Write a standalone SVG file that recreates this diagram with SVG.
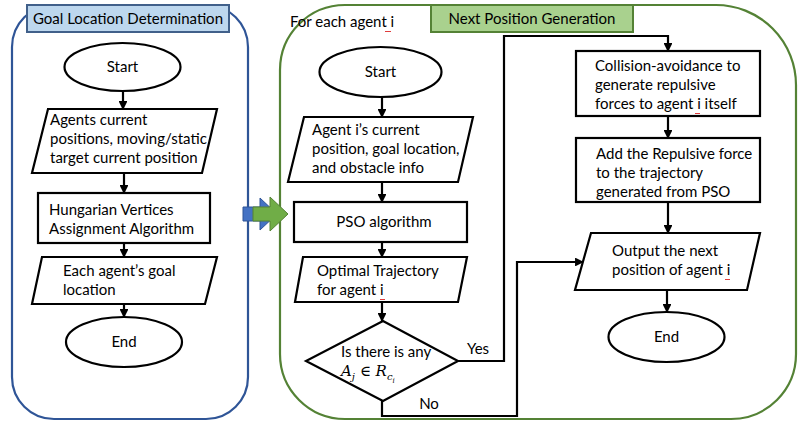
<svg xmlns="http://www.w3.org/2000/svg" width="799" height="421" viewBox="0 0 799 421">
<defs>
<style>
text{font-family:Lato,"Liberation Sans",sans-serif;font-size:15px;fill:#000}
.shape{fill:#fff;stroke:#000;stroke-width:2.2}
.conn{fill:none;stroke:#000;stroke-width:2.2}
.math{font-family:"DejaVu Serif","Liberation Serif",serif;font-style:italic}
.sq{fill:none;stroke:#e03c3c;stroke-width:1}
</style>
<marker id="ah" viewBox="0 0 10 10" refX="9" refY="5" markerWidth="4" markerHeight="4" orient="auto" markerUnits="strokeWidth">
<path d="M0,0 L10,5 L0,10 z" fill="#000"/>
</marker>
</defs>
<rect width="799" height="421" fill="#fff"/>

<g id="goal-container">
<rect x="12" y="5" width="236" height="414" rx="42" ry="42" fill="none" stroke="#2f5597" stroke-width="2.2"/>
<rect x="27" y="5" width="202" height="27" fill="#bdd7ee" stroke="#41608a" stroke-width="2"/>
<text x="128" y="24" text-anchor="middle">Goal Location Determination</text>
</g>

<g id="next-container">
<path d="M345,5 H716 A80,80 0 0 1 796,85 V354 A65,65 0 0 1 731,419 H345 A65,65 0 0 1 280,354 V70 A65,65 0 0 1 345,5 Z" fill="none" stroke="#548235" stroke-width="2.2"/>
<rect x="431" y="5" width="202" height="27" fill="#a9d18e" stroke="#548235" stroke-width="2"/>
<text x="532" y="24" text-anchor="middle">Next Position Generation</text>
<text x="290" y="27">For each agent i</text>
<path class="sq" d="M385,31 l1,1 l1,-1 l1,1 l1,-1 l1,1 l1,-1"/>
</g>

<g id="block-arrow">
<path d="M243,207 H260 V198 L277,214 L260,230 V221 H243 Z" fill="#4472c4" stroke="#2f5597" stroke-width="1"/>
<path d="M253,207 H270 V197 L288,214 L270,231 V221 H253 Z" fill="#70ad47" stroke="#548235" stroke-width="1"/>
</g>

<g id="connectors">
<path class="conn" d="M123,91 V109" marker-end="url(#ah)"/>
<path class="conn" d="M124,173 V193" marker-end="url(#ah)"/>
<path class="conn" d="M124,243 V257" marker-end="url(#ah)"/>
<path class="conn" d="M124,304 V317" marker-end="url(#ah)"/>
<path class="conn" d="M382,97 V117" marker-end="url(#ah)"/>
<path class="conn" d="M382,182 V202" marker-end="url(#ah)"/>
<path class="conn" d="M382,242 V257" marker-end="url(#ah)"/>
<path class="conn" d="M382,302 V321" marker-end="url(#ah)"/>
<path class="conn" d="M458,361 H504 V36 H668 V51" marker-end="url(#ah)"/>
<path class="conn" d="M382,401 V416 H517 V262 H583" marker-end="url(#ah)"/>
<path class="conn" d="M668,116 V138" marker-end="url(#ah)"/>
<path class="conn" d="M668,202 V233" marker-end="url(#ah)"/>
<path class="conn" d="M667,290 V312" marker-end="url(#ah)"/>
<text x="478" y="354" text-anchor="middle">Yes</text>
<text x="429" y="409" text-anchor="middle">No</text>
</g>

<g id="start-left">
<ellipse class="shape" cx="122.5" cy="67" rx="58" ry="24"/>
<text x="122.5" y="72" text-anchor="middle">Start</text>
</g>

<g id="agents-positions">
<path class="shape" d="M48,109 H217 L202,173 H32 Z"/>
<text x="50" y="125">Agents current</text>
<text x="50" y="144">positions, moving/static</text>
<text x="50" y="163">target current position</text>
</g>

<g id="hungarian">
<rect class="shape" x="38" y="193" width="172" height="50"/>
<text x="49" y="215">Hungarian Vertices</text>
<text x="49" y="234">Assignment Algorithm</text>
</g>

<g id="goal-location">
<path class="shape" d="M42,257 H217 L205,304 H32 Z"/>
<text x="63" y="276">Each agent’s goal</text>
<text x="63" y="295">location</text>
</g>

<g id="end-left">
<ellipse class="shape" cx="124" cy="342" rx="58" ry="25"/>
<text x="124" y="347" text-anchor="middle">End</text>
</g>

<g id="start-right">
<ellipse class="shape" cx="380.5" cy="72" rx="61" ry="25"/>
<text x="380.5" y="77" text-anchor="middle">Start</text>
</g>

<g id="agent-info">
<path class="shape" d="M304,117 H473 L458,182 H288 Z"/>
<text x="312" y="135">Agent i’s current</text>
<text x="312" y="154">position, goal location,</text>
<text x="312" y="173">and obstacle info</text>
</g>

<g id="pso">
<rect class="shape" x="294" y="202" width="173" height="40"/>
<text x="384" y="227" text-anchor="middle">PSO algorithm</text>
</g>

<g id="optimal-trajectory">
<path class="shape" d="M303,257 H467 L458,302 H295 Z"/>
<text x="317" y="276">Optimal Trajectory</text>
<text x="317" y="295">for agent i</text>
<path class="sq" d="M380,299 l1,1 l1,-1 l1,1 l1,-1 l1,1"/>
</g>

<g id="decision">
<path class="shape" d="M383,321 L458,361 L383,401 L306,361 Z"/>
<text x="341" y="357">Is there is any</text>
<text class="math" x="341" y="376" font-size="15">A<tspan font-size="10" dy="4">j</tspan><tspan dy="-4">  </tspan><tspan font-style="normal">∈</tspan> R<tspan font-size="10" dy="4">c</tspan><tspan font-size="7" dy="3">i</tspan></text>
</g>

<g id="collision">
<rect class="shape" x="576" y="51" width="184" height="65"/>
<text x="595" y="71">Collision-avoidance to</text>
<text x="595" y="90">generate repulsive</text>
<text x="595" y="109">forces to agent i itself</text>
<path class="sq" d="M695,113 l1,1 l1,-1 l1,1 l1,-1 l1,1"/>
</g>

<g id="add-force">
<rect class="shape" x="576" y="138" width="184" height="64"/>
<text x="596" y="159">Add the Repulsive force</text>
<text x="596" y="178">to the trajectory</text>
<text x="596" y="197">generated from PSO</text>
</g>

<g id="output">
<path class="shape" d="M591,233 H760 L747,290 H575 Z"/>
<text x="612" y="256">Output the next</text>
<text x="612" y="275">position of agent i</text>
<path class="sq" d="M725,279 l1,1 l1,-1 l1,1 l1,-1 l1,1"/>
</g>

<g id="end-right">
<ellipse class="shape" cx="666.5" cy="337" rx="58" ry="25"/>
<text x="666.5" y="342" text-anchor="middle">End</text>
</g>
</svg>
